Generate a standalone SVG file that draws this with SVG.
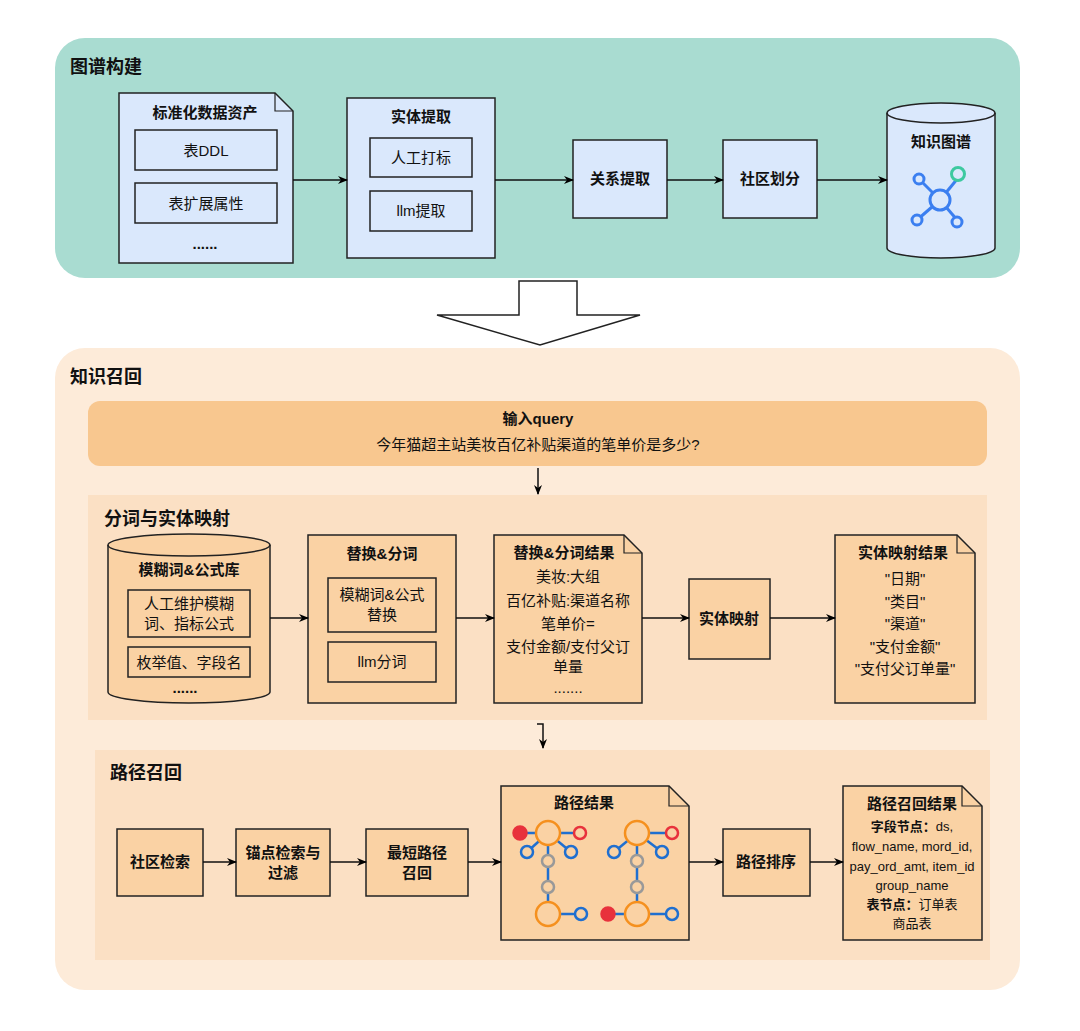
<svg xmlns="http://www.w3.org/2000/svg" width="1080" height="1031" viewBox="0 0 1080 1031">
<defs>
<marker id="ah" markerWidth="10" markerHeight="10" refX="9" refY="5" orient="auto" markerUnits="userSpaceOnUse"><path d="M0,1 L10,5 L0,9 L3,5 Z" fill="#000"/></marker>
<style>
text{font-family:"Liberation Sans","Noto Sans CJK SC",sans-serif;fill:#111;text-anchor:middle}
.t{font-size:18px;font-weight:bold;text-anchor:start}
.b{font-weight:bold;font-size:15px}
.n{font-size:15px}
.blue{fill:#dae8fc;stroke:#222;stroke-width:1.5}
.or{fill:#fad2a4;stroke:#222;stroke-width:1.5}
.ln{stroke:#111;stroke-width:1.5;fill:none;marker-end:url(#ah)}
.e{stroke:#1f6fd0;stroke-width:2.5}
</style>
</defs>
<rect width="1080" height="1031" fill="#fff"/>
<g id="panel-top"><rect x="55" y="38" width="965" height="240" rx="30" fill="#a9dcd1"/><text class="t" x="70" y="73">图谱构建</text></g>
<g id="assets"><path class="blue" d="M119,93 H275 L293,111 V263 H119 Z"/><path d="M275,93 V111 H293" fill="none" stroke="#222" stroke-width="1.2"/>
<text class="b" x="205" y="118">标准化数据资产</text>
<rect class="blue" x="135" y="130" width="142" height="40"/><text class="n" x="206" y="156">表DDL</text>
<rect class="blue" x="135" y="183" width="142" height="40"/><text class="n" x="206" y="209">表扩展属性</text>
<text class="b" x="205" y="249">......</text></g>
<g id="entity-extract"><rect class="blue" x="347" y="98" width="148" height="160"/><text class="b" x="421" y="122">实体提取</text>
<rect class="blue" x="370" y="138" width="102" height="39"/><text class="n" x="421" y="163">人工打标</text>
<rect class="blue" x="370" y="191" width="102" height="40"/><text class="n" x="421" y="216">llm提取</text></g>
<g id="rel"><rect class="blue" x="573" y="140" width="94" height="78"/><text class="b" x="620" y="184">关系提取</text></g>
<g id="community"><rect class="blue" x="723" y="140" width="94" height="78"/><text class="b" x="770" y="184">社区划分</text></g>
<g id="kg"><path class="blue" d="M887,113 V248 A54,10 0 0 0 995,248 V113 A54,10 0 0 0 887,113 Z"/><path d="M887,113 A54,10 0 0 0 995,113" fill="none" stroke="#222" stroke-width="1.5"/>
<text class="b" x="941" y="147">知识图谱</text>
<g stroke="#3b7ff0" stroke-width="3" fill="#dae8fc"><line x1="940" y1="200" x2="919" y2="179"/><line x1="940" y1="200" x2="958" y2="178"/><line x1="940" y1="200" x2="917" y2="220"/><line x1="940" y1="200" x2="958" y2="221"/>
<circle cx="919" cy="179" r="5"/><circle cx="917" cy="220" r="5"/><circle cx="957" cy="222" r="5"/><circle cx="940" cy="200" r="10"/><circle cx="958" cy="174" r="6.5" stroke="#3dc9a0"/></g></g>
<g id="bigarrow"><path d="M519,281 H577 V315 H640 L540,345 L437,315 H519 Z" fill="#fff" stroke="#222" stroke-width="1.5"/></g>
<g id="panel-bottom"><rect x="55" y="348" width="965" height="642" rx="30" fill="#fdebd9"/><text class="t" x="70" y="383">知识召回</text></g>
<g id="query"><rect x="88" y="401" width="899" height="65" rx="12" fill="#f8c78f"/><text class="b" x="538" y="424">输入query</text><text class="n" x="538" y="450">今年猫超主站美妆百亿补贴渠道的笔单价是多少?</text></g>
<g id="sec1"><rect x="88" y="495" width="899" height="225" fill="#fbe0c4"/><text class="t" x="104" y="525">分词与实体映射</text></g>
<g id="fuzzylib"><path class="or" d="M108,545 V692 A81,11 0 0 0 270,692 V545 A81,11 0 0 0 108,545 Z"/><path d="M108,545 A81,11 0 0 0 270,545" fill="none" stroke="#222" stroke-width="1.5"/>
<text class="b" x="189" y="575">模糊词&amp;公式库</text>
<rect class="or" x="128" y="590" width="122" height="47"/><text class="n" x="189" y="609">人工维护模糊</text><text class="n" x="189" y="629">词、指标公式</text>
<rect class="or" x="128" y="647" width="122" height="30"/><text class="n" x="189" y="668">枚举值、字段名</text>
<text class="b" x="185" y="693">......</text></g>
<g id="replace"><rect class="or" x="308" y="535" width="148" height="168"/><text class="b" x="382" y="559">替换&amp;分词</text>
<rect class="or" x="328" y="578" width="108" height="54"/><text class="n" x="382" y="600">模糊词&amp;公式</text><text class="n" x="382" y="620">替换</text>
<rect class="or" x="328" y="642" width="108" height="40"/><text class="n" x="382" y="667">llm分词</text></g>
<g id="replace-result"><path class="or" d="M494,535 H624 L642,553 V703 H494 Z"/><path d="M624,535 V553 H642" fill="none" stroke="#222" stroke-width="1.2"/>
<text class="b" x="564" y="558">替换&amp;分词结果</text><text class="n" x="568" y="582">美妆:大组</text><text class="n" x="568" y="606">百亿补贴:渠道名称</text><text class="n" x="568" y="629">笔单价=</text><text class="n" x="568" y="652">支付金额/支付父订</text><text class="n" x="568" y="672">单量</text><text class="n" x="568" y="693">.......</text></g>
<g id="entmap"><rect class="or" x="689" y="579" width="81" height="80"/><text class="b" x="729" y="624">实体映射</text></g>
<g id="entmap-result"><path class="or" d="M835,535 H957 L975,553 V703 H835 Z"/><path d="M957,535 V553 H975" fill="none" stroke="#222" stroke-width="1.2"/>
<text class="b" x="903" y="558">实体映射结果</text><text class="n" x="905" y="584">"日期"</text><text class="n" x="905" y="607">"类目"</text><text class="n" x="905" y="629">"渠道"</text><text class="n" x="905" y="652">"支付金额"</text><text class="n" x="905" y="674">"支付父订单量"</text></g>
<g id="sec2"><rect x="95" y="750" width="895" height="210" fill="#fbe0c4"/><text class="t" x="110" y="779">路径召回</text></g>
<g id="comsearch"><rect class="or" x="117" y="829" width="86" height="67"/><text class="b" x="160" y="867">社区检索</text></g>
<g id="anchor"><rect class="or" x="236" y="829" width="94" height="67"/><text class="b" x="283" y="858">锚点检索与</text><text class="b" x="283" y="878">过滤</text></g>
<g id="shortest"><rect class="or" x="366" y="829" width="102" height="67"/><text class="b" x="417" y="858">最短路径</text><text class="b" x="417" y="878">召回</text></g>
<g id="pathresult"><path class="or" d="M501,786 H669 L689,806 V940 H501 Z"/><path d="M669,786 V806 H689" fill="none" stroke="#222" stroke-width="1.2"/>
<text class="b" x="584" y="808">路径结果</text>
<g fill="#fad2a4">
<line class="e" x1="520" y1="833" x2="580" y2="833"/><line class="e" x1="548" y1="833" x2="527" y2="852"/><line class="e" x1="548" y1="833" x2="571" y2="852"/><line class="e" x1="548" y1="833" x2="548" y2="914"/><line class="e" x1="548" y1="914" x2="581" y2="914"/>
<line class="e" x1="637" y1="833" x2="672" y2="833"/><line class="e" x1="637" y1="833" x2="614" y2="852"/><line class="e" x1="637" y1="833" x2="662" y2="852"/><line class="e" x1="637" y1="833" x2="637" y2="914"/><line class="e" x1="608" y1="914" x2="672" y2="914"/>
<g stroke-width="2.5" fill="#fad2a4">
<circle cx="548" cy="833" r="12" stroke="#f5901e"/><circle cx="548" cy="914" r="12" stroke="#f5901e"/><circle cx="637" cy="833" r="12" stroke="#f5901e"/><circle cx="637" cy="914" r="12" stroke="#f5901e"/>
<circle cx="548" cy="861" r="6" stroke="#999"/><circle cx="548" cy="887" r="6" stroke="#999"/><circle cx="637" cy="861" r="6" stroke="#999"/><circle cx="637" cy="887" r="6" stroke="#999"/>
<circle cx="527" cy="852" r="6" stroke="#1f6fd0"/><circle cx="571" cy="852" r="6" stroke="#1f6fd0"/><circle cx="581" cy="914" r="6" stroke="#1f6fd0"/><circle cx="614" cy="852" r="6" stroke="#1f6fd0"/><circle cx="662" cy="852" r="6" stroke="#1f6fd0"/><circle cx="672" cy="914" r="6" stroke="#1f6fd0"/>
<circle cx="580" cy="833" r="6" stroke="#e8323c"/><circle cx="672" cy="833" r="6" stroke="#e8323c"/>
<circle cx="520" cy="833" r="6.5" fill="#e8323c" stroke="#e8323c"/><circle cx="608" cy="914" r="6.5" fill="#e8323c" stroke="#e8323c"/>
</g></g></g>
<g id="sort"><rect class="or" x="723" y="829" width="87" height="67"/><text class="b" x="766" y="867">路径排序</text></g>
<g id="final"><path class="or" d="M843,786 H962 L982,806 V940 H843 Z"/><path d="M962,786 V806 H982" fill="none" stroke="#222" stroke-width="1.2"/>
<text class="b" x="912" y="809">路径召回结果</text>
<text x="912" y="831" style="font-size:13px;font-weight:bold">字段节点：<tspan font-weight="normal">ds,</tspan></text>
<text x="912" y="851" style="font-size:13px">flow_name, mord_id,</text>
<text x="912" y="871" style="font-size:13px">pay_ord_amt, item_id</text>
<text x="912" y="890" style="font-size:13px">group_name</text>
<text x="912" y="909" style="font-size:13px;font-weight:bold">表节点：<tspan font-weight="normal">订单表</tspan></text>
<text x="912" y="928" style="font-size:13px">商品表</text></g>
<g id="connectors">
<path class="ln" d="M293,180 H347"/><path class="ln" d="M495,180 H573"/><path class="ln" d="M667,180 H723"/><path class="ln" d="M817,180 H887"/>
<path class="ln" d="M538,468 V494"/>
<path class="ln" d="M270,618 H308"/><path class="ln" d="M456,618 H494"/><path class="ln" d="M642,618 H689"/><path class="ln" d="M770,618 H835"/>
<path class="ln" d="M537,724 H543 V748"/>
<path class="ln" d="M203,862 H236"/><path class="ln" d="M330,862 H366"/><path class="ln" d="M468,862 H501"/><path class="ln" d="M689,862 H723"/><path class="ln" d="M810,862 H843"/>
</g>
</svg>
